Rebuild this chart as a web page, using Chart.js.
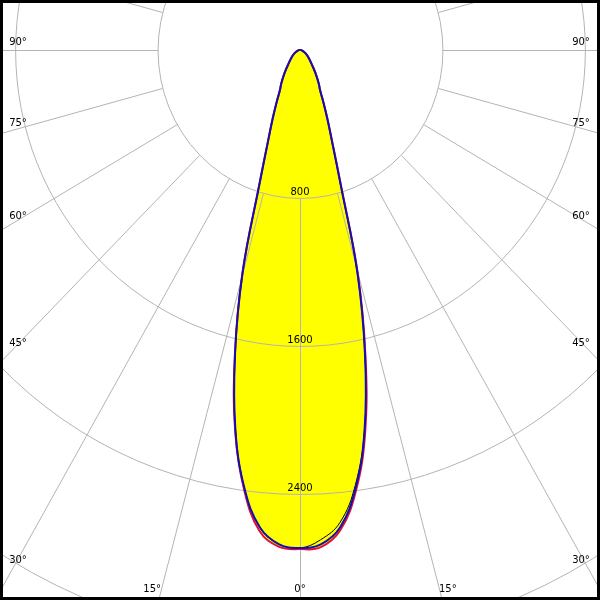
<!DOCTYPE html>
<html>
<head>
<meta charset="utf-8">
<script src="https://cdn.jsdelivr.net/npm/chart.js@4.4.1/dist/chart.umd.min.js"></script>
<style>
  html, body { margin: 0; padding: 0; background: #fff; }
  #wrap { width: 600px; height: 600px; }
</style>
</head>
<body>
<div id="wrap"><canvas id="polar" width="600" height="600"></canvas></div>
<script>
// Gamma angles (deg from nadir) and intensities (cd)
const gammas = [0, 2.5, 5, 7.5, 10, 12.5, 15, 17.5, 20, 22.5, 25, 27.5, 30, 35, 40, 50, 60, 70, 80, 90];
const blueLeft = [2692, 2675, 2590, 2390, 2088, 1687, 1246, 752, 525, 400, 309, 243, 212, 150, 105, 60, 35, 18, 7, 0];
const blueRight = [2692, 2675, 2590, 2390, 2088, 1687, 1246, 752, 525, 400, 309, 243, 212, 150, 105, 60, 35, 18, 7, 0];
const redLeft = [2698, 2688, 2610, 2400, 2095, 1690, 1250, 755, 527, 400, 309, 243, 212, 150, 105, 60, 35, 18, 7, 0];
const redRight = [2698, 2690, 2605, 2405, 2105, 1700, 1258, 760, 530, 402, 310, 243, 212, 150, 105, 60, 35, 18, 7, 0];
const blackLeft = [2692, 2675, 2590, 2390, 2088, 1687, 1246, 752, 525, 400, 309, 243, 212, 150, 105, 60, 35, 18, 7, 0];
const blackRight = [2692, 2650, 2565, 2375, 2085, 1687, 1246, 752, 525, 400, 309, 243, 212, 150, 105, 60, 35, 18, 7, 0];

// Grid rings (cd) and angle labels (deg)
const ringValues = [800, 1600, 2400, 3200];
const ringLabels = ['800', '1600', '2400'];
const angleTicks = [0, 15, 30, 45, 60, 75, 90];

// left half goes from the tip down to nadir, right half back up
function toPoints(left, right) {
    const pts = [];
    for (let i = gammas.length - 1; i >= 0; i--) {
        const a = gammas[i] * Math.PI / 180;
        pts.push({ x: -left[i] * Math.sin(a), y: -left[i] * Math.cos(a) });
    }
    for (let i = 1; i < gammas.length; i++) {
        const a = gammas[i] * Math.PI / 180;
        pts.push({ x: right[i] * Math.sin(a), y: -right[i] * Math.cos(a) });
    }
    return pts;
}

const gridPlugin = {
    id: 'polarGrid',
    afterDatasetDraw(chart, args) {
        if (args.index !== 0) return; // grid sits on top of the yellow fill only
        const { ctx, scales: { x, y } } = chart;
        const cx = x.getPixelForValue(0), cy = y.getPixelForValue(0);
        ctx.save();
        ctx.translate(0.5, 0.5);
        ctx.strokeStyle = '#b4b4b4';
        ctx.lineWidth = 1;
        ringValues.forEach(r => {
            ctx.beginPath();
            ctx.ellipse(cx, cy, x.getPixelForValue(r) - cx, y.getPixelForValue(-r) - cy, 0, 0, Math.PI * 2);
            ctx.stroke();
        });
        for (let a = 0; a < 360; a += 15) {
            const s = Math.sin(a * Math.PI / 180), c = Math.cos(a * Math.PI / 180);
            const r0 = ringValues[0], r1 = 6000;
            ctx.beginPath();
            ctx.moveTo(Math.round(x.getPixelForValue(r0 * s)), Math.round(y.getPixelForValue(-r0 * c)));
            ctx.lineTo(x.getPixelForValue(r1 * s), y.getPixelForValue(-r1 * c));
            ctx.stroke();
        }
        ctx.restore();
    },
    afterDatasetsDraw(chart) {
        const { ctx, scales: { x, y } } = chart;
        const cx = x.getPixelForValue(0), cy = y.getPixelForValue(0);
        const kx = x.getPixelForValue(1000) - cx;
        const ky = cy - y.getPixelForValue(1000);
        ctx.save();
        ctx.fillStyle = '#000';
        ctx.font = '10px "DejaVu Sans"';
        ctx.textAlign = 'center';
        ctx.textBaseline = 'middle';

        // ring values along the nadir line
        ringLabels.forEach((t, i) => {
            ctx.fillText(t, cx, y.getPixelForValue(-ringValues[i]) - 6);
        });

        // angle labels where the rays leave the frame
        angleTicks.forEach(a => {
            const s = Math.sin(a * Math.PI / 180), c = Math.cos(a * Math.PI / 180);
            [-1, 1].forEach(side => {
                if (a === 0 && side === 1) return;
                let px, py;
                let r = s > 0 ? (cx - 18) / (s * kx / 1000) : Infinity;
                py = cy + r * c * ky / 1000;
                if (py < 588) {
                    px = side < 0 ? 18 : 581;
                    py += (45 - a) * 8 / 45;
                } else {
                    r = (600 - cy) / (c * ky / 1000);
                    px = cx + side * r * s * kx / 1000 + (a === 0 ? 0 : side * 6);
                    py = 589;
                }
                ctx.fillText(a + '\u00b0', px, py);
            });
        });

        // frame
        ctx.strokeStyle = '#000';
        ctx.lineWidth = 6;
        ctx.strokeRect(0, 0, chart.width, chart.height);
        ctx.restore();
    }
};

const lineDefaults = { showLine: true, pointRadius: 0, fill: false, tension: 0.4 };

new Chart(document.getElementById('polar'), {
    type: 'scatter',
    data: {
        datasets: [
            { ...lineDefaults, label: 'fill', data: toPoints(redLeft, redRight), borderWidth: 0, borderColor: 'rgba(0,0,0,0)', backgroundColor: '#ffff00', fill: 'shape', order: 10 },
            { ...lineDefaults, label: 'C-plane 3', data: toPoints(blackLeft, blackRight), borderColor: '#000000', borderWidth: 1, order: 3 },
            { ...lineDefaults, label: 'C90-C270', data: toPoints(redLeft, redRight), borderColor: '#e0103c', borderWidth: 2, order: 2 },
            { ...lineDefaults, label: 'C0-C180', data: toPoints(blueLeft, blueRight), borderColor: '#1010b4', borderWidth: 2, order: 1 }
        ]
    },
    options: {
        responsive: false,
        animation: false,
        devicePixelRatio: 1,
        layout: { padding: 0 },
        scales: {
            x: { type: 'linear', display: false, min: -1685, max: 1685 },
            y: { type: 'linear', display: false, min: -2973, max: 270 }
        },
        plugins: {
            legend: { display: false },
            tooltip: { enabled: false }
        }
    },
    plugins: [gridPlugin]
});
</script>
</body>
</html>
